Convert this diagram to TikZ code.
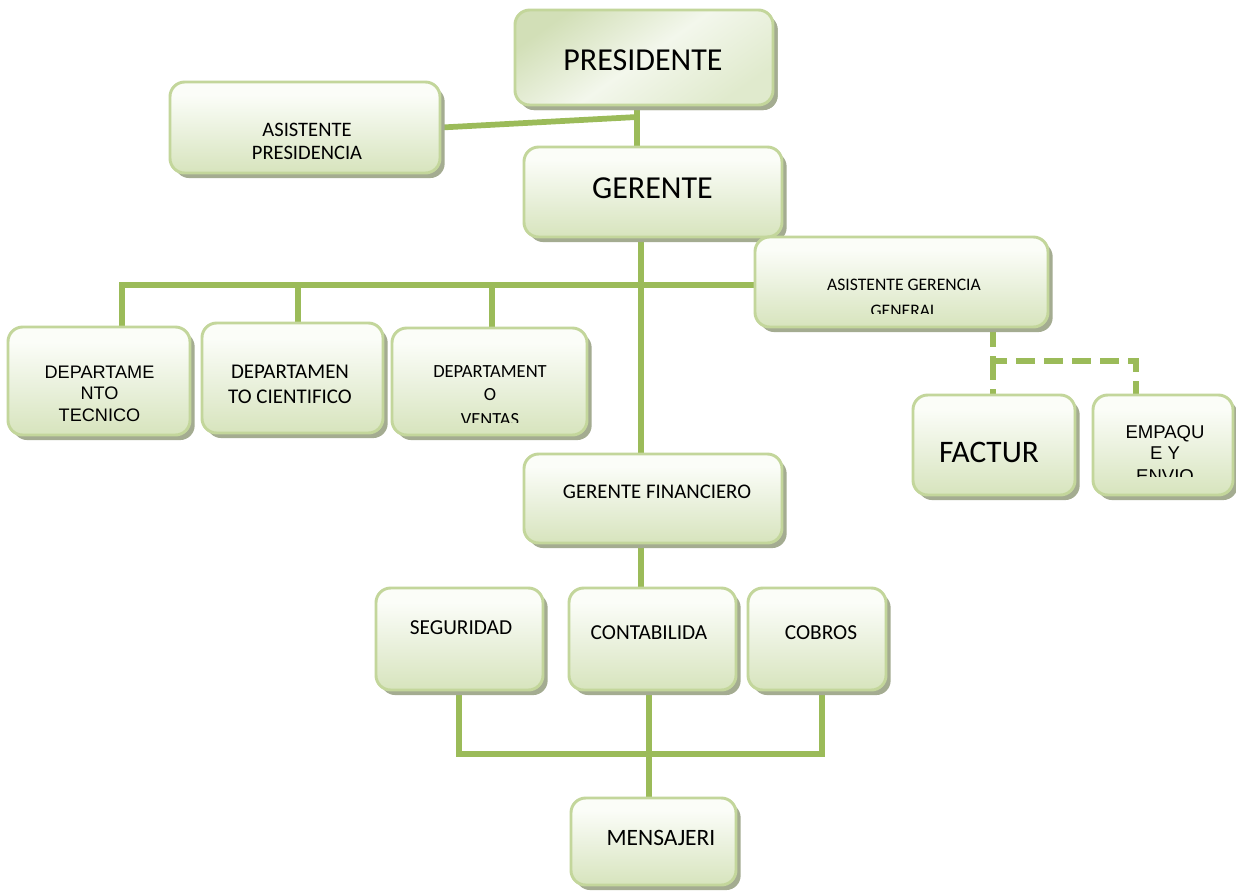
\documentclass[tikz,border=0pt]{standalone}
\usepackage{fontspec}
\setmainfont{Carlito}
\newfontfamily\arialf{Liberation Sans}
\usetikzlibrary{shadows,calc}
\definecolor{linec}{HTML}{9BBB59}
\definecolor{bordc}{HTML}{C3D69B}
\definecolor{boxbot}{HTML}{D7E4BD}
\definecolor{boxmid}{HTML}{EAF1DD}
\definecolor{boxtop}{HTML}{FBFDF8}
\definecolor{shadc}{HTML}{A4AC91}
\definecolor{presA}{HTML}{D2DFB7}
\definecolor{presB}{HTML}{F3F7EC}
\definecolor{presC}{HTML}{E0EACD}
\pgfdeclareverticalshading{boxshade}{100bp}{color(0bp)=(boxbot); color(25bp)=(boxbot); color(48bp)=(boxmid); color(68bp)=(boxtop); color(100bp)=(boxtop)}
\pgfdeclareverticalshading{presshade}{100bp}{color(0bp)=(presC); color(25bp)=(presC); color(50bp)=(presB); color(75bp)=(presA); color(100bp)=(presA)}
\pgfdeclarelayer{bg}
\pgfsetlayers{bg,main}
\tikzset{
  box/.style={rectangle, rounded corners=11pt, draw=bordc, line width=2.2pt,
    shade, shading=boxshade, inner sep=0pt,
    drop shadow={shadow xshift=3.5pt, shadow yshift=-3.8pt, fill=shadc, opacity=1}},
  presbox/.style={box, shading=presshade, shading angle=35},
  conn/.style={draw=linec, line width=4.3pt},
  dconn/.style={conn, dash pattern=on 14pt off 7pt},
}
\newcommand\obox[6][]{%
  \pgfmathsetmacro\obw{(#5-#3)*0.75}\pgfmathsetmacro\obh{(#6-#4)*0.75}%
  \node[box, #1, minimum width=\obw pt, minimum height=\obh pt] (#2) at ({(#3+#5)/2},{(#4+#6)/2}) {};}
\newcommand\ctx[5]{\pgfmathsetmacro\mych{#4*0.632}%
  \node[inner sep=0pt, text depth=0pt, text height=\mych pt, font=\fontsize{#4pt}{#4pt}\selectfont] (#1) at (#2,#3) {#5};}
\newcommand\atx[5]{\pgfmathsetmacro\mych{#4*0.716}%
  \node[inner sep=0pt, text depth=0pt, text height=\mych pt, font=\arialf\fontsize{#4pt}{#4pt}\selectfont] (#1) at (#2,#3) {#5};}
\begin{document}
\begin{tikzpicture}[x=0.75pt, y=-0.75pt]
\begin{pgfonlayer}{bg}
  \fill[white] (0,0) rectangle (1236,890);
\end{pgfonlayer}
\useasboundingbox (0,0) rectangle (1236,890);

% boxes
\obox[presbox]{pres}{515}{10}{773}{105}
\obox{asp}{170}{82}{440}{173}
\obox{ger}{524}{147}{782}{237}
\obox{agg}{755}{237}{1048}{327}
\obox{tec}{8}{327}{190}{435}
\obox{cie}{202}{323}{383}{433}
\obox{ven}{392}{328}{587}{435}
\obox{fac}{913}{395}{1075}{495}
\obox{emp}{1093}{395}{1233}{495}
\obox{gf}{524}{454}{782}{543}
\obox{seg}{376}{588}{543}{690}
\obox{cont}{569}{588}{736}{690}
\obox{cob}{748}{588}{886}{690}
\obox{mens}{571}{798}{736}{885}

% texts
\ctx{presT}{643}{60}{24}{PRESIDENTE}
\ctx{aspT1}{307}{130}{15.4}{ASISTENTE}
\ctx{aspT2}{307}{153}{15.4}{PRESIDENCIA}
\ctx{gerT}{652.5}{188}{24}{GERENTE}
\ctx{aggT1}{904}{285}{13.2}{ASISTENTE GERENCIA}
\begin{scope}
  \clip (755,237) rectangle (1048,313);
  \ctx{aggT2}{904}{310.5}{13.2}{GENERAL}
\end{scope}
\atx{tecT1}{99.5}{372}{13.6}{DEPARTAME}
\atx{tecT2}{99.5}{393}{13.6}{NTO}
\atx{tecT3}{99.5}{415}{13.6}{TECNICO}
\ctx{cieT1}{290}{372}{15.7}{DEPARTAMEN}
\ctx{cieT2}{290}{397}{15.7}{TO CIENTIFICO}
\ctx{venT1}{490}{372}{13.9}{DEPARTAMENT}
\ctx{venT2}{490}{395}{13.9}{O}
\begin{scope}
  \clip (392,328) rectangle (587,422);
  \ctx{venT3}{490}{420}{13.9}{VENTAS}
\end{scope}
\ctx{facT}{989}{453}{23.5}{FACTUR}
\atx{empT1}{1165}{432}{13.9}{EMPAQU}
\atx{empT2}{1165}{453}{13.9}{E Y}
\begin{scope}
  \clip (1093,395) rectangle (1233,476);
  \atx{empT3}{1165}{475.6}{13.9}{ENVIO}
\end{scope}
\ctx{gfT}{657}{492}{15.6}{GERENTE FINANCIERO}
\ctx{segT}{461}{628}{16}{SEGURIDAD}
\ctx{contT}{649}{633}{16}{CONTABILIDA}
\ctx{cobT}{821}{633}{16}{COBROS}
\ctx{mensT}{661}{838}{17.6}{MENSAJERI}

% junction coordinates
\coordinate (j1) at (637,117);
\coordinate (g1) at (641,0);
\coordinate (d1) at (122,285);
\coordinate (d2) at (298,285);
\coordinate (d3) at (492,285);
\coordinate (dd) at (993,361);
\coordinate (de) at (1136,361);
\coordinate (b1) at (459,754);
\coordinate (b2) at (649,754);
\coordinate (b3) at (822,754);

% connectors
\begin{pgfonlayer}{bg}
  \draw[conn] (asp.east) -- (j1);
  \draw[conn] (pres.south -| j1) -- (ger.north -| j1);
  \draw[conn] (ger.south -| g1) -- (gf.north -| g1);
  \draw[conn] (tec.north -| d1) -- (d1) -- (agg.west |- d1);
  \draw[conn] (d2) -- (cie.north -| d2);
  \draw[conn] (d3) -- (ven.north -| d3);
  \draw[dconn] (agg.south -| dd) -- (dd) -- (de) -- (emp.north -| de);
  \draw[dconn] (dd) -- (fac.north -| dd);
  \draw[conn] (gf.south -| g1) -- (cont.north -| g1);
  \draw[conn] (seg.south -| b1) -- (b1) -- (b3) -- (cob.south -| b3);
  \draw[conn] (cont.south -| b2) -- (mens.north -| b2);
\end{pgfonlayer}
\end{tikzpicture}
\end{document}
